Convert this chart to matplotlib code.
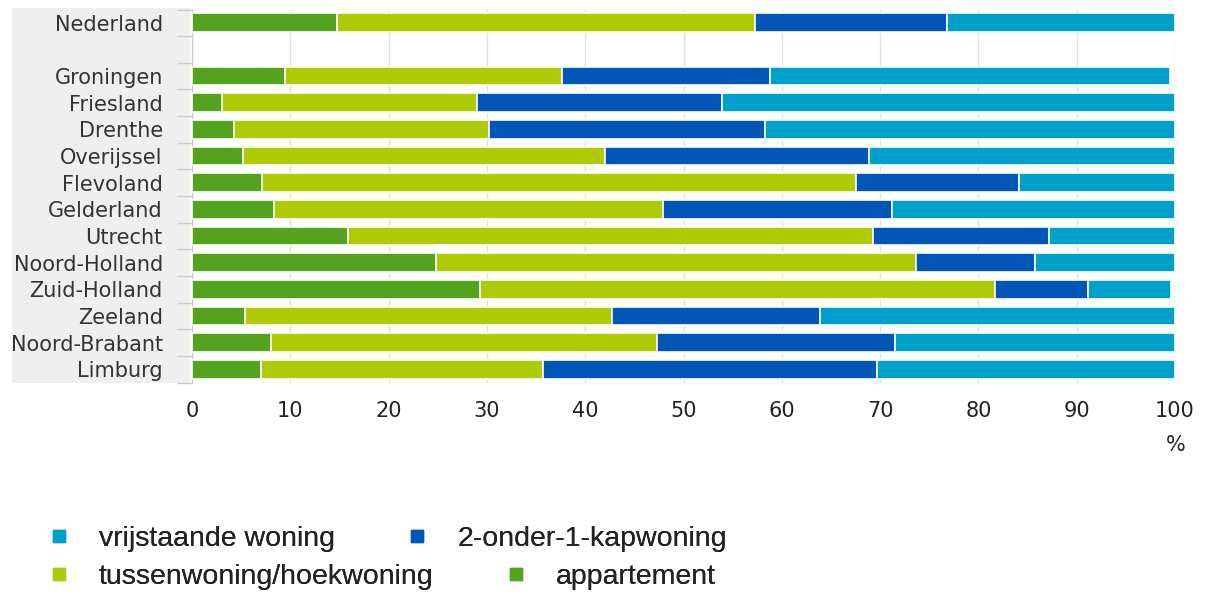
import matplotlib
matplotlib.use("Agg")
import matplotlib.pyplot as plt
import numpy as np
from matplotlib.patches import Rectangle
from matplotlib.lines import Line2D

categories = ["Nederland", "Groningen", "Friesland", "Drenthe", "Overijssel",
              "Flevoland", "Gelderland", "Utrecht", "Noord-Holland", "Zuid-Holland",
              "Zeeland", "Noord-Brabant", "Limburg"]

appartement = [14.8, 9.5, 3.1, 4.3, 5.2, 7.1, 8.3, 15.9, 24.8, 29.3, 5.4, 8.0, 7.0]
tussenwoning = [42.5, 28.1, 25.9, 25.9, 36.8, 60.4, 39.6, 53.4, 48.9, 52.4, 37.3, 39.3, 28.7]
twee_onder_een_kap = [19.5, 21.2, 24.9, 28.1, 26.9, 16.6, 23.3, 17.9, 12.1, 9.4, 21.2, 24.2, 34.0]
vrijstaand = [23.2, 40.7, 46.1, 41.7, 31.1, 15.9, 28.8, 12.8, 14.2, 8.5, 36.1, 28.5, 30.3]

series_names = ["appartement", "tussenwoning/hoekwoning", "2-onder-1-kapwoning", "vrijstaande woning"]
colors = {"appartement": "#53a31f", "tussenwoning/hoekwoning": "#afcb06",
          "2-onder-1-kapwoning": "#0057b7", "vrijstaande woning": "#00a0cc"}

W, H = 1209, 593
fig = plt.figure(figsize=(W / 100, H / 100), dpi=100)
fig.patch.set_facecolor("white")

# grey label panel
fig.patches.append(Rectangle((12 / W, 1 - 383 / H), (190 - 12) / W, (383 - 8) / H,
                             transform=fig.transFigure, facecolor="#efefef",
                             edgecolor="none", zorder=0))

ax = fig.add_axes([192 / W, 1 - 382.5 / H, (1175 - 192) / W, (382.5 - 9.5) / H])
ax.set_facecolor("none")
ax.set_zorder(2)

# y positions: Nederland at 0, empty slot at 1, provinces 2..13
ypos = np.array([0] + list(range(2, 2 + len(categories) - 1)), dtype=float)
vals = [appartement, tussenwoning, twee_onder_een_kap, vrijstaand]

left = np.zeros(len(categories))
for name, v in zip(series_names, vals):
    arr = np.array(v)
    ax.barh(ypos, arr, left=left, height=0.7, color=colors[name],
            edgecolor="white", linewidth=1.2, zorder=3)
    left += arr

nslots = len(categories) + 1
ax.set_xlim(0, 100)
ax.set_ylim(nslots - 0.5, -0.5)
ax.set_xticks(np.arange(0, 101, 10))
ax.set_yticks(ypos)
ax.set_yticklabels(categories)
ax.set_yticks(np.arange(-0.5, nslots, 1), minor=True)
ax.tick_params(axis="y", which="major", length=0, pad=21, labelsize=15, labelcolor="#333333")
ax.tick_params(axis="y", which="minor", length=11, color="#c5ccda", width=1)
ax.tick_params(axis="x", length=0, pad=13, labelsize=15, labelcolor="#222222")
ax.grid(axis="x", color="#e2e2e2", linewidth=1, zorder=0)
for s in ["top", "right", "bottom"]:
    ax.spines[s].set_visible(False)
ax.spines["left"].set_color("#c5ccda")
ax.spines["left"].set_linewidth(1)

fig.text(1176 / W, 1 - 445 / H, "%", fontsize=15, color="#222222", ha="center", va="center")

legend_font = {"family": ["Liberation Sans", "DejaVu Sans"], "size": 20.5}

def handle(name):
    return Line2D([], [], marker="s", linestyle="none", markersize=9,
                  markerfacecolor=colors[name], markeredgecolor=colors[name])

row1 = ["vrijstaande woning", "2-onder-1-kapwoning"]
row2 = ["tussenwoning/hoekwoning", "appartement"]
for row, yc in [(row1, 539), (row2, 577)]:
    leg = fig.legend([handle(n) for n in row], row, ncol=2, loc="center left",
                     bbox_to_anchor=(29 / W, 1 - yc / H), frameon=False,
                     prop=legend_font, handlelength=0.7, handletextpad=1.05,
                     columnspacing=2.55, labelcolor="#222222", borderpad=0.2)
    fig.add_artist(leg)

fig.savefig("out.png", dpi=100)
